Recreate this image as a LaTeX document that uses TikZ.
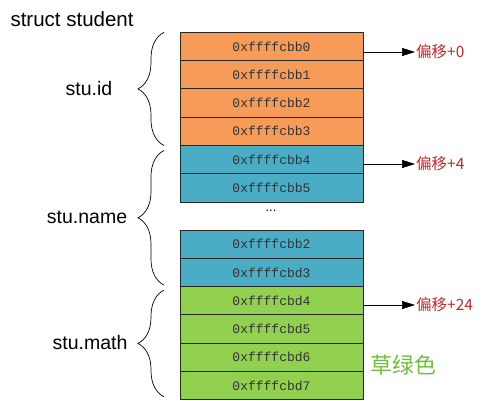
\documentclass[tikz,border=0pt]{standalone}
\usepackage{fontspec}
\setmainfont{Liberation Sans}
\setmonofont{Liberation Mono}
\newfontfamily\cjk{Noto Sans CJK SC}
\usetikzlibrary{positioning, arrows.meta, decorations.pathreplacing}
\definecolor{cellorange}{RGB}{247,155,88}
\definecolor{cellblue}{RGB}{75,172,198}
\definecolor{cellgreen}{RGB}{146,208,80}
\definecolor{offsetred}{RGB}{190,40,45}
\definecolor{notegreen}{RGB}{112,190,60}

\begin{document}
\begin{tikzpicture}[
    x=1pt, y=-1pt,
    node distance=0pt,
    every node/.style={align=center},
    cell/.style={rectangle, draw=black!85, line width=0.8pt, minimum width=183pt, minimum height=28.3pt, inner sep=0pt, outer sep=0pt, font=\ttfamily\fontsize{13}{15}\selectfont, text=black!80},
    idcell/.style={cell, fill=cellorange},
    namecell/.style={cell, fill=cellblue},
    mathcell/.style={cell, fill=cellgreen},
    memberlabel/.style={font=\fontsize{19.5}{22}\selectfont},
    offsetlabel/.style={font=\cjk\fontsize{15.5}{18}\selectfont, text=offsetred, inner sep=1pt, anchor=west},
    arrow/.style={-{Triangle[length=13pt,width=8pt]}, line width=0.7pt},
    membrace/.style={decorate, decoration={brace, amplitude=26pt}, line width=0.7pt}
]
\useasboundingbox (0,0) rectangle (488,401);

% --- Titulo
\node[memberlabel, font=\fontsize{20.5}{22}\selectfont, anchor=west] (title) at (7,19) {struct student};

% --- Celdas stu.id
\node[idcell] (id0) at (271.5,46.45) {0xffffcbb0};
\node[idcell, below=of id0] (id1) {0xffffcbb1};
\node[idcell, below=of id1] (id2) {0xffffcbb2};
\node[idcell, below=of id2] (id3) {0xffffcbb3};

% --- Celdas stu.name
\node[namecell, below=of id3] (nm0) {0xffffcbb4};
\node[namecell, below=of nm0] (nm1) {0xffffcbb5};
\node[font=\fontsize{13}{15}\selectfont] (gap) at (271,211) {...};
\node[namecell] (nm2) at (271.5,244.15) {0xffffcbb2};
\node[namecell, below=of nm2] (nm3) {0xffffcbd3};

% --- Celdas stu.math
\node[mathcell, below=of nm3] (mt0) {0xffffcbd4};
\node[mathcell, below=of mt0] (mt1) {0xffffcbd5};
\node[mathcell, below=of mt1] (mt2) {0xffffcbd6};
\node[mathcell, below=of mt2] (mt3) {0xffffcbd7};

% --- Llaves y nombres de miembros
\draw[membrace] ([xshift=-16pt]id3.south west) -- ([xshift=-16pt]id0.north west);
\draw[membrace] ([xshift=-16pt, yshift=1.5pt]nm3.south west) -- ([xshift=-16pt, yshift=-5pt]nm0.north west);
\draw[membrace] ([xshift=-16pt, yshift=3pt]mt3.south west) -- ([xshift=-16pt, yshift=-3.5pt]mt0.north west);

\node[memberlabel] (idlabel) at (89,89) {stu.id};
\node[memberlabel] (namelabel) at (87,217) {stu.name};
\node[memberlabel] (mathlabel) at (90,343) {stu.math};

% --- Desplazamientos
\node[offsetlabel] (off0) at (415,52) {偏移+0};
\node[offsetlabel] (off1) at (415,164) {偏移+4};
\node[offsetlabel] (off2) at (415,305) {偏移+24};

\draw[arrow] (id0.east |- off0.west) -- (off0.west);
\draw[arrow] (nm0.east |- off1.west) -- (off1.west);
\draw[arrow] (mt0.east |- off2.west) -- (off2.west);

% Nota de color
\node[font=\cjk\fontsize{22}{24}\selectfont, text=notegreen] (note) at (403,365) {草绿色};

\end{tikzpicture}
\end{document}
